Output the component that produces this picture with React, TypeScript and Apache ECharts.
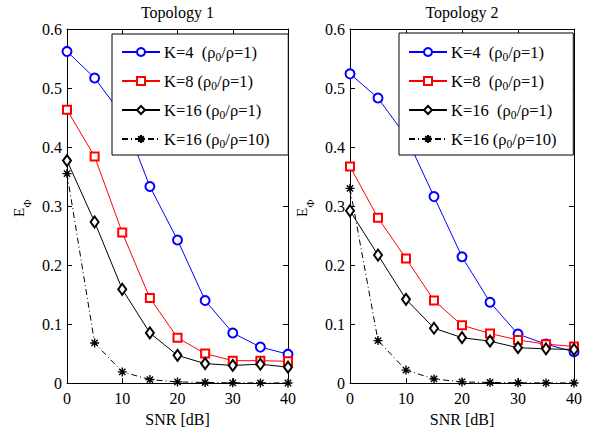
import React, { useEffect, useRef } from 'react';
import * as echarts from 'echarts';

const FONT = 'Liberation Serif';

const snr = [0, 5, 10, 15, 20, 25, 30, 35, 40];

const titles = ['Topology 1', 'Topology 2'];

const t1K4 = [0.562, 0.517, 0.454, 0.333, 0.2425, 0.14, 0.085, 0.061, 0.049];
const t1K8 = [0.463, 0.384, 0.255, 0.144, 0.077, 0.05, 0.038, 0.038, 0.037];
const t1K16 = [0.377, 0.273, 0.159, 0.085, 0.047, 0.033, 0.03, 0.032, 0.027];
const t1K16r10 = [0.355, 0.068, 0.019, 0.006, 0.002, 0.001, 0.0005, 0.0003, 0.0002];

const t2K4 = [0.524, 0.483, 0.418, 0.316, 0.214, 0.137, 0.083, 0.066, 0.053];
const t2K8 = [0.367, 0.28, 0.211, 0.14, 0.098, 0.084, 0.073, 0.066, 0.062];
const t2K16 = [0.292, 0.217, 0.142, 0.093, 0.077, 0.071, 0.06, 0.058, 0.057];
const t2K16r10 = [0.33, 0.072, 0.022, 0.007, 0.002, 0.001, 0.0005, 0.0003, 0.0002];

// legend texts as [main, sub, rest]
const legend1 = [
  ['K=4  (ρ', '0', '/ρ=1)'],
  ['K=8 (ρ', '0', '/ρ=1)'],
  ['K=16 (ρ', '0', '/ρ=1)'],
  ['K=16 (ρ', '0', '/ρ=10)'],
];
const legend2 = [
  ['K=4  (ρ', '0', '/ρ=1)'],
  ['K=8  (ρ', '0', '/ρ=1)'],
  ['K=16  (ρ', '0', '/ρ=1)'],
  ['K=16 (ρ', '0', '/ρ=10)'],
];
const yName = ['E', 'Φ'];
const xName = 'SNR [dB]';

const STAR = 'path://M5,0L5,10M0,5L10,5M1.5,1.5L8.5,8.5M8.5,1.5L1.5,8.5';

const styles = [
  { color: '#0000ff', symbol: 'emptyCircle', symbolSize: 9, dash: 'solid' as any, bw: 1 },
  { color: '#ff0000', symbol: 'emptyRect', symbolSize: 8, dash: 'solid' as any, bw: 1 },
  { color: '#000000', symbol: 'emptyDiamond', symbolSize: [8, 11], dash: 'solid' as any, bw: 1 },
  { color: '#000000', symbol: STAR, symbolSize: 9, dash: [6, 3, 1, 3] as any, bw: 1.4 },
];

const panels = [
  { values: [t1K4, t1K8, t1K16, t1K16r10], legend: legend1 },
  { values: [t2K4, t2K8, t2K16, t2K16r10], legend: legend2 },
];

const gridsPx = [
  { left: 67, top: 29, width: 221, height: 358 },
  { left: 350, top: 29, width: 224, height: 358 },
];

const legendBox = [
  { left: 112, top: 34, padding: [13, 123, 11, 9] },
  { left: 399, top: 33, padding: [14, 121, 11, 9] },
];
const ITEM_H = 10;
const ITEM_GAP = 19;
const LEG_FONT = 16.5;
const SUB_FONT = 11.5;

export default function App() {
  const ref = useRef<HTMLDivElement>(null);
  useEffect(() => {
    if (!ref.current) return;
    const chart = echarts.init(ref.current, undefined, { renderer: 'svg' });

    const ctx = document.createElement('canvas').getContext('2d')!;
    const measure = (t: string, size: number) => {
      ctx.font = `${size}px "${FONT}"`;
      return ctx.measureText(t).width;
    };

    const series: any[] = [];
    const legends: any[] = [];
    const graphics: any[] = [];
    panels.forEach((p, pi) => {
      const names: string[] = [];
      p.values.forEach((vals, si) => {
        const st = styles[si];
        const name = `P${pi + 1}S${si}`;
        names.push(name);
        series.push({
          type: 'line',
          name,
          xAxisIndex: pi * 2,
          yAxisIndex: pi * 2,
          data: snr.map((x, i) => [x, vals[i]]),
          symbol: st.symbol,
          symbolSize: st.symbolSize,
          showAllSymbol: true,
          lineStyle: { color: st.color, width: 1, type: st.dash },
          itemStyle: { color: st.color, borderColor: st.color, borderWidth: st.bw },
          emphasis: { disabled: true },
          z: 2,
        });
        // legend label text (drawn as plain texts to get the subscript)
        const lb = legendBox[pi];
        const cy = lb.top + lb.padding[0] + ITEM_H / 2 + si * (ITEM_H + ITEM_GAP);
        const x0 = lb.left + lb.padding[3] + 38 + 5;
        const lg = p.legend[si];
        const w0 = measure(lg[0], LEG_FONT);
        const w1 = measure(lg[1], SUB_FONT);
        const textStyle = (text: string, size: number) => ({
          text,
          fontFamily: FONT,
          fontSize: size,
          fill: '#000',
          align: 'left',
          verticalAlign: 'middle',
        });
        graphics.push(
          { type: 'text', x: x0, y: cy, z: 10, style: textStyle(lg[0], LEG_FONT) },
          { type: 'text', x: x0 + w0, y: cy + 5, z: 10, style: textStyle(lg[1], SUB_FONT) },
          { type: 'text', x: x0 + w0 + w1, y: cy, z: 10, style: textStyle(lg[2], LEG_FONT) }
        );
      });
      legends.push({
        data: names,
        orient: 'vertical',
        left: legendBox[pi].left,
        top: legendBox[pi].top,
        itemWidth: 38,
        itemHeight: ITEM_H,
        itemGap: ITEM_GAP,
        padding: legendBox[pi].padding,
        borderColor: '#000',
        borderWidth: 1,
        borderRadius: 0,
        backgroundColor: '#fff',
        selectedMode: false,
        formatter: () => ' ',
        textStyle: { fontSize: 1, color: 'rgba(0,0,0,0)' },
        z: 5,
      });
      // y-axis name E_Φ, rotated
      const ex = gridsPx[pi].left - 48.5;
      graphics.push(
        {
          type: 'text',
          x: ex,
          y: 212.5,
          rotation: Math.PI / 2,
          style: { text: yName[0], fontFamily: FONT, fontSize: 15, fill: '#000', align: 'center', verticalAlign: 'middle' },
        },
        {
          type: 'text',
          x: ex + 8,
          y: 203.5,
          rotation: Math.PI / 2,
          style: { text: yName[1], fontFamily: FONT, fontSize: 11, fill: '#000', align: 'center', verticalAlign: 'middle' },
        }
      );
    });

    const axisCommonX = (gi: number, pos: 'bottom' | 'top') => ({
      type: 'value',
      gridIndex: gi,
      position: pos,
      min: 0,
      max: 40,
      interval: 10,
      axisLine: { show: true, onZero: false, lineStyle: { color: '#000', width: 1 } },
      axisTick: { show: true, inside: true, length: 5, lineStyle: { color: '#000' } },
      splitLine: { show: false },
      axisLabel: {
        show: pos === 'bottom',
        fontFamily: FONT,
        fontSize: 16,
        color: '#000',
        margin: 7,
      },
      name: pos === 'bottom' ? xName : '',
      nameLocation: 'middle',
      nameGap: 23,
      nameTextStyle: { fontFamily: FONT, fontSize: 16, color: '#000' },
    });
    const axisCommonY = (gi: number, pos: 'left' | 'right') => ({
      type: 'value',
      gridIndex: gi,
      position: pos,
      min: 0,
      max: 0.6,
      interval: 0.1,
      axisLine: { show: true, onZero: false, lineStyle: { color: '#000', width: 1 } },
      axisTick: { show: true, inside: true, length: 5, lineStyle: { color: '#000' } },
      splitLine: { show: false },
      axisLabel: {
        show: pos === 'left',
        fontFamily: FONT,
        fontSize: 16,
        color: '#000',
        margin: 5,
        formatter: (v: number) => (v === 0 ? '0' : v.toFixed(1)),
      },
    });

    const xAxis: any[] = [];
    const yAxis: any[] = [];
    [0, 1].forEach((gi) => {
      xAxis.push(axisCommonX(gi, 'bottom'), axisCommonX(gi, 'top'));
      yAxis.push(axisCommonY(gi, 'left'), axisCommonY(gi, 'right'));
    });

    titles.forEach((t, i) =>
      graphics.push({
        type: 'text',
        x: gridsPx[i].left + gridsPx[i].width / 2,
        y: 12,
        style: {
          text: t,
          fontFamily: FONT,
          fontSize: 16,
          fill: '#000',
          align: 'center',
          verticalAlign: 'middle',
        },
      })
    );

    chart.setOption({
      animation: false,
      backgroundColor: '#fff',
      grid: gridsPx.map((g) => ({ ...g, containLabel: false, show: false })),
      xAxis,
      yAxis,
      legend: legends,
      series,
      graphic: graphics,
    });
    return () => chart.dispose();
  }, []);
  return (
    <div
      ref={ref}
      style={{ position: 'fixed', left: 0, top: 0, width: 598, height: 432, background: '#fff' }}
    />
  );
}
